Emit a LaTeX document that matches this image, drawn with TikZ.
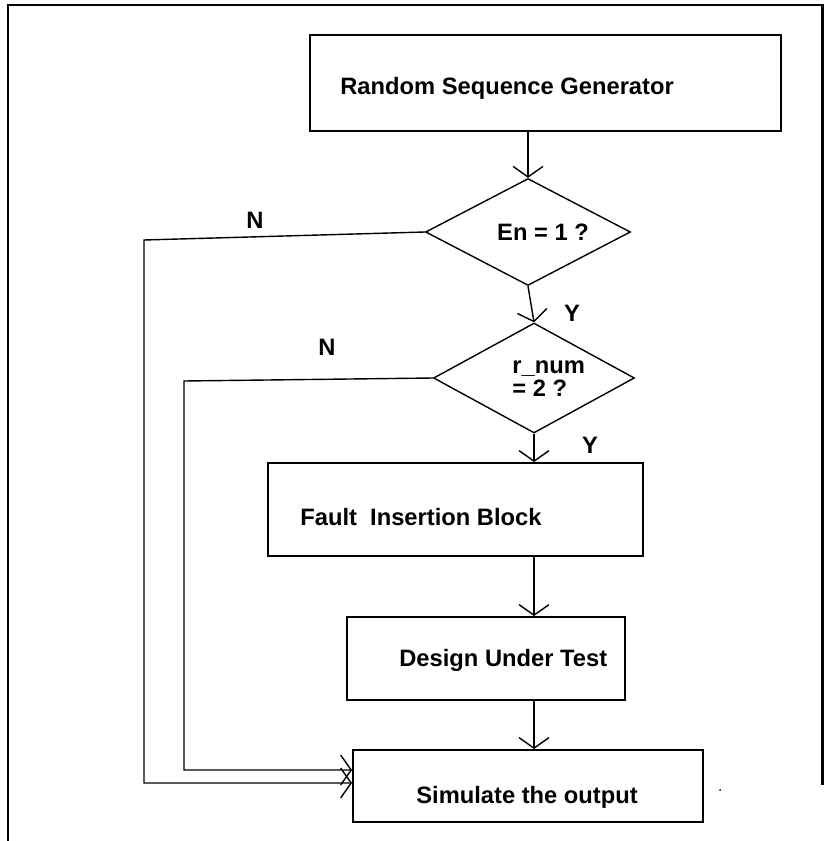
\documentclass[tikz,border=0pt]{standalone}
\usepackage{fontspec}
\setmainfont{Liberation Sans}
\usepackage{tikz}
\usetikzlibrary{shapes.geometric,arrows.meta}

\tikzset{
    block/.style={draw, line width=1.1pt, inner sep=0pt},
    decision/.style={draw, diamond, line width=0.8pt, inner sep=0pt},
    txt/.style={font=\fontsize{13.5}{13}\selectfont\bfseries, inner sep=0pt},
    flow/.style={line width=0.8pt, -{Straight Barb[length=6pt,width=17pt]}}
}

\begin{document}
\begin{tikzpicture}[x=0.02cm, y=-0.02cm]
        \useasboundingbox (0,0) rectangle (826,841);
        % outer frame
        \draw [line width=1.7pt] (8,841) -- (8,5) -- (822,5) -- (822,785);
        % boxes
        \node [block, minimum width=9.42cm, minimum height=1.92cm] (rsg) at (545.5,83) {};
        \node [decision, minimum width=4.1cm, minimum height=2.14cm] (en) at (528,232) {};
        \node [decision, minimum width=4.02cm, minimum height=2.2cm] (rnum) at (534,378) {};
        \node [block, minimum width=7.5cm, minimum height=1.86cm] (fib) at (455.5,509.5) {};
        \node [block, minimum width=5.56cm, minimum height=1.66cm] (dut) at (486,658.5) {};
        \node [block, minimum width=7.0cm, minimum height=1.44cm] (sim) at (528,786) {};
        % texts
        \node [txt, right] (rsgtext) at (340,88) {Random Sequence Generator};
        \node [txt] (entext) at (543,232) {En = 1 ?};
        \node [txt, right, align=left] (rnumtext) at (512,379) {r\_num\\= 2 ?};
        \node [txt, right] (fibtext) at (300,517) {Fault\ \ Insertion Block};
        \node [txt, right] (duttext) at (399,660) {Design Under Test};
        \node [txt, right] (simtext) at (416,797) {Simulate the output};
        \node [txt] (n1) at (255,220) {N};
        \node [txt] (n2) at (327,347) {N};
        \node [txt] (y1) at (572,313) {Y};
        \node [txt] (y2) at (590,445) {Y};
        % connectors
        \coordinate (c1) at (144,240);
        \coordinate (c2) at (184,381);
        \draw [flow] (rsg.south -| en.north) -- (en.north);
        \draw [flow] (en.south) -- (rnum.north);
        \draw [flow] (rnum.south) -- (rnum.south |- fib.north);
        \draw [flow] (fib.south -| rnum.south) -- (dut.north -| rnum.south);
        \draw [flow] (dut.south -| rnum.south) -- (sim.north -| rnum.south);
        \draw [flow] (en.west) -- (c1) |- (sim.west |- 0,783);
        \draw [flow] (rnum.west) -- (c2) |- (sim.west |- 0,770);
        % stray dot
        \fill (720,790) circle (1);
\end{tikzpicture}
\end{document}
